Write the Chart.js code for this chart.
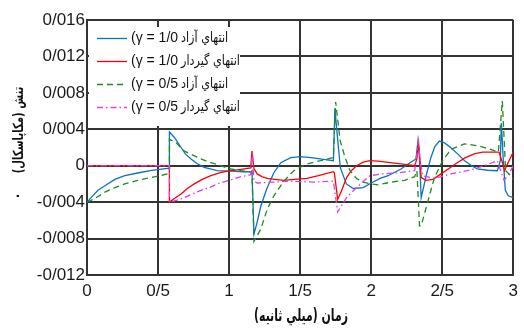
<!DOCTYPE html>
<html>
<head>
<meta charset="utf-8">
<script src="https://cdn.jsdelivr.net/npm/chart.js@4.4.1/dist/chart.umd.min.js"></script>
<style>
  html, body { margin: 0; padding: 0; background: #fff; }
  #wrap { width: 524px; height: 330px; position: relative; }
</style>
</head>
<body>
<div id="wrap"><canvas id="stress"></canvas></div>
<script>
// time in ms, stress in MPa

// free end, gamma = 1.0
const freeT10 = [0, 0.035, 0.077, 0.126, 0.196, 0.266, 0.357, 0.455, 0.566, 0.58, 0.58, 0.615, 0.662, 0.692, 0.732, 0.776, 0.825, 0.916, 1.014, 1.105, 1.154, 1.161,
  1.175, 1.196, 1.224, 1.266, 1.315, 1.364, 1.434, 1.503, 1.594, 1.664, 1.734, 1.745, 1.755, 1.783, 1.825, 1.874, 1.944, 2.0, 2.063, 2.119, 2.21, 2.273, 2.315,
  2.329, 2.339, 2.352, 2.364, 2.392, 2.42, 2.448, 2.48, 2.517, 2.559, 2.608, 2.657, 2.713, 2.748, 2.818, 2.888, 2.909, 2.916, 2.93, 2.944, 2.965, 3.0];
const freeV10 = [-0.004, -0.0034, -0.0027, -0.0022, -0.0015, -0.0011, -0.0008, -0.0005, -0.0003, -0.0003, 0.0037, 0.0031, 0.002, 0.0013, 0.00074, 0.00022, -0.00019, -0.00055, -0.0006, -0.00066, -0.00066, -0.00055,
  -0.0075, -0.0063, -0.0044, -0.0025, -0.00077, 0.00033, 0.00088, 0.001, 0.00085, 0.0007, 0.00055, 0.0063, 0.0044, -0.00022, -0.002, -0.0025, -0.0024, -0.0019, -0.0014, -0.0011, -0.00036, 0.00033, 0.00074,
  0.0027, 0.0011, -0.0035, -0.0027, -0.00077, 0.00088, 0.0021, 0.0027, 0.0025, 0.002, 0.0013, 0.00055, -0.00006, -0.00036, -0.0005, -0.00055, 0.00055, 0.0047, 0.00055, -0.0027, -0.0033, -0.0035];

// fixed end, gamma = 1.0
const fixedT10 = [0, 0.58, 0.58, 0.615, 0.662, 0.706, 0.755, 0.811, 0.872, 0.937, 1.012, 1.084, 1.152, 1.161, 1.175, 1.198, 1.231, 1.268, 1.322, 1.385, 1.462, 1.547, 1.629, 1.734, 1.741,
  1.764, 1.79, 1.827, 1.86, 1.897, 1.944, 1.991, 2.049, 2.119, 2.224, 2.306, 2.322, 2.333, 2.343, 2.352, 2.387, 2.434, 2.492, 2.545, 2.608, 2.664, 2.725, 2.783, 2.841, 2.9, 2.923, 2.939, 2.951, 2.97, 3.0];
const fixedV10 = [0, 0, -0.004, -0.0036, -0.0031, -0.0025, -0.002, -0.0015, -0.0011, -0.00077, -0.00055, -0.0004, -0.00025, 0.0016, -0.00033, -0.0009, -0.0012, -0.0014, -0.0015, -0.0016, -0.0015, -0.0014, -0.0011, -0.00066, -0.00077,
  -0.0037, -0.0028, -0.0013, -0.00055, 0, 0.00039, 0.00055, 0.0005, 0.00036, 0.00017, 0, 0.00077, 0.0026, 0.00077, -0.0013, -0.0016, -0.0015, -0.0009, -0.00033, 0.00036, 0.00088, 0.0013, 0.0015, 0.0015, 0.0015, 0.00036, -0.00055, -0.0001, 0.00055, 0.0015];

// free end, gamma = 0.5
const freeT05 = [0, 0.056, 0.126, 0.196, 0.266, 0.357, 0.452, 0.51, 0.569, 0.58, 0.58, 0.629, 0.685, 0.741, 0.802, 0.86, 0.918, 1.012, 1.084, 1.152, 1.161,
  1.175, 1.222, 1.268, 1.315, 1.385, 1.455, 1.547, 1.664, 1.734, 1.75, 1.781, 1.816, 1.851, 1.897, 1.944, 1.993, 2.049, 2.142, 2.236, 2.306, 2.322,
  2.34, 2.352, 2.399, 2.445, 2.503, 2.561, 2.608, 2.655, 2.748, 2.841, 2.895, 2.923, 2.946, 2.97, 3.0];
const freeV05 = [-0.004, -0.0036, -0.0029, -0.0024, -0.002, -0.0016, -0.0013, -0.0011, -0.0009, -0.0009, 0.0029, 0.0025, 0.0016, 0.0012, 0.00074, 0.00039, 0.00011, -0.00036, -0.00055, -0.00066, -0.00066,
  -0.0083, -0.007, -0.0048, -0.0033, -0.0017, -0.00055, 0.00019, 0.00063, 0.00091, 0.007, 0.0028, 0.00091, -0.00055, -0.0014, -0.0018, -0.002, -0.0021, -0.0018, -0.0016, -0.0012, -0.00055,
  -0.0066, -0.0066, -0.0039, -0.0013, 0.00055, 0.0018, 0.0021, 0.0024, 0.0022, 0.0018, 0.0015, 0.0071, -0.00055, -0.0009, -0.0015];

// fixed end, gamma = 0.5
const fixedT05 = [0, 0.58, 0.58, 0.629, 0.685, 0.741, 0.802, 0.86, 0.918, 1.023, 1.084, 1.152, 1.163, 1.175, 1.198, 1.315, 1.431, 1.594, 1.734,
  1.764, 1.79, 1.827, 1.897, 1.991, 2.072, 2.212, 2.306, 2.333, 2.343, 2.364, 2.445, 2.561, 2.678, 2.795, 2.888, 2.911, 2.935, 2.97, 3.0];
const fixedV05 = [0, 0, -0.004, -0.0038, -0.0035, -0.0031, -0.0027, -0.0024, -0.002, -0.0015, -0.0012, -0.001, 0.0014, -0.0017, -0.0019, -0.0018, -0.0017, -0.0018, -0.0017,
  -0.0051, -0.0044, -0.0035, -0.0024, -0.0011, -0.0009, -0.00074, -0.00055, 0.0027, 0.00055, -0.0011, -0.0014, -0.0009, -0.00055, 0, 0.00055, -0.00055, -0.0016, -0.0009, 0];

// legend entries: gamma part and end-condition part
const gammaLabels = ['(\u03b3 = 1/0', '(\u03b3 = 1/0', '(\u03b3 = 0/5', '(\u03b3 = 0/5'];
const endLabels = ['انتهاي آزاد', 'انتهاي گيردار', 'انتهاي آزاد', 'انتهاي گيردار'];
const xTickLabels = ['0', '0/5', '1', '1/5', '2', '2/5', '3'];
const yTickLabels = ['-0/012', '-0/008', '-0/004', '0', '0/004', '0/008', '0/012', '0/016'];
const xTitle = 'زمان (ميلي ثانيه)';
const yTitle = 'تنش (مكاپاسكال)';

const toPoints = (ts, vs) => ts.map((t, i) => ({ x: t, y: vs[i] }));

const tickFont = { family: '"Liberation Sans", Arial, sans-serif', size: 17 };
const gridColor = '#333';

// narrow rendering for the Arabic strings (the DejaVu glyphs run wide)
const drawNarrow = (ctx, text, x, y, squeeze) => {
    ctx.save();
    ctx.translate(x, y);
    ctx.scale(squeeze, 1);
    ctx.fillText(text, 0, 0);
    ctx.restore();
};

// legend and axis titles, drawn straight on the canvas
const decorations = {
    id: 'decorations',
    afterDatasetsDraw(chart) {
        const ctx = chart.ctx;
        ctx.save();
        ctx.fillStyle = '#fff';
        ctx.fillRect(89, 27, 151, 99);
        const rows = [38, 61, 84, 107];
        chart.data.datasets.forEach((ds, i) => {
            ctx.beginPath();
            ctx.strokeStyle = ds.borderColor;
            ctx.lineWidth = ds.borderWidth;
            ctx.setLineDash(ds.borderDash || []);
            ctx.moveTo(97, rows[i] + 0.5);
            ctx.lineTo(127, rows[i] + 0.5);
            ctx.stroke();
        });
        ctx.setLineDash([]);
        ctx.fillStyle = '#111';
        ctx.textBaseline = 'middle';
        ctx.textAlign = 'left';
        ctx.direction = 'ltr';
        ctx.font = '14px "Liberation Sans", sans-serif';
        gammaLabels.forEach((g, i) => ctx.fillText(g, 131, rows[i]));
        ctx.font = '14px "DejaVu Sans", sans-serif';
        ctx.direction = 'rtl';
        ctx.textAlign = 'left';
        endLabels.forEach((e, i) => drawNarrow(ctx, e, 181, rows[i], 0.8));
        ctx.restore();
    },
    afterDraw(chart) {
        const ctx = chart.ctx;
        ctx.save();
        ctx.fillStyle = '#111';
        ctx.direction = 'rtl';
        ctx.textAlign = 'center';
        ctx.textBaseline = 'middle';
        ctx.font = 'bold 17px "DejaVu Sans", sans-serif';
        drawNarrow(ctx, xTitle, 301, 317, 0.64);
        ctx.translate(19, 130);
        ctx.rotate(-Math.PI / 2);
        ctx.font = 'bold 14px "DejaVu Sans", sans-serif';
        drawNarrow(ctx, yTitle, 0, 0, 0.72);
        ctx.font = 'bold 12px "DejaVu Sans", sans-serif';
        ctx.fillText('.', -66, -3);
        ctx.restore();
    }
};

new Chart(document.getElementById('stress'), {
    type: 'line',
    data: {
        datasets: [{
            data: toPoints(freeT10, freeV10),
            borderColor: '#0a72c2',
            borderWidth: 1.3,
            order: 3
        }, {
            data: toPoints(fixedT10, fixedV10),
            borderColor: '#ff0000',
            borderWidth: 1.3,
            order: 2
        }, {
            data: toPoints(freeT05, freeV05),
            borderColor: '#1e8c1e',
            borderWidth: 1.3,
            borderDash: [6, 4],
            order: 1
        }, {
            data: toPoints(fixedT05, fixedV05),
            borderColor: '#e040e0',
            borderWidth: 1.3,
            borderDash: [6, 3, 1.5, 3],
            order: 0
        }]
    },
    options: {
        responsive: true,
        maintainAspectRatio: false,
        animation: false,
        layout: { padding: { left: 0, right: 8, top: 20, bottom: 0 } },
        elements: { point: { radius: 0 }, line: { tension: 0 } },
        plugins: { legend: { display: false }, tooltip: { enabled: false } },
        scales: {
            x: {
                type: 'linear',
                min: 0,
                max: 3,
                afterFit: (scale) => { scale.height = 55; },
                ticks: {
                    stepSize: 0.5,
                    padding: 6,
                    color: '#1a1a1a',
                    font: tickFont,
                    maxRotation: 0,
                    callback: (v) => xTickLabels[Math.round(v / 0.5)]
                },
                grid: { color: gridColor, lineWidth: 2, drawTicks: false },
                border: { color: gridColor, width: 2 }
            },
            y: {
                type: 'linear',
                min: -0.012,
                max: 0.016,
                afterFit: (scale) => { scale.width = 87; },
                ticks: {
                    stepSize: 0.004,
                    padding: 2,
                    color: '#1a1a1a',
                    font: tickFont,
                    callback: (v) => yTickLabels[Math.round((v + 0.012) / 0.004)]
                },
                grid: { color: gridColor, lineWidth: 2, drawTicks: false },
                border: { color: gridColor, width: 2 }
            }
        }
    },
    plugins: [decorations]
});
</script>
</body>
</html>
